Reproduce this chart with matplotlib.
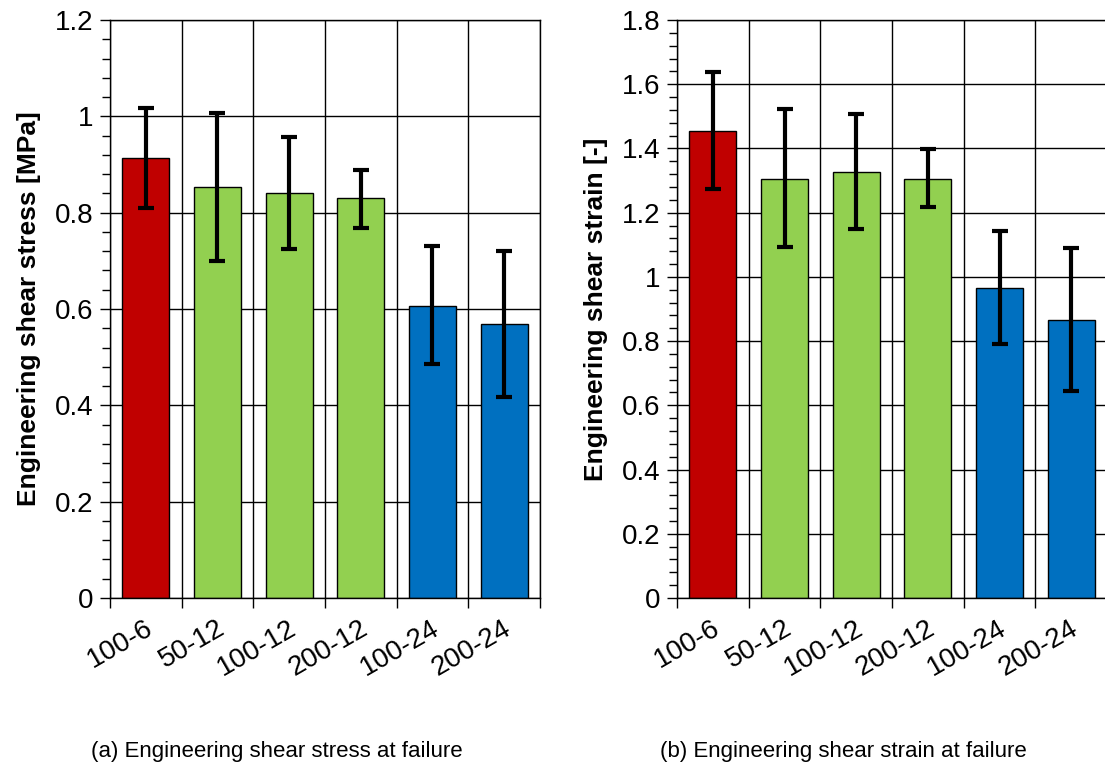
import matplotlib
matplotlib.use("Agg")
import matplotlib.pyplot as plt
import numpy as np
from matplotlib.ticker import MultipleLocator, FixedLocator, FuncFormatter

GROUPS = ["100-6", "50-12", "100-12", "200-12", "100-24", "200-24"]
COLORS = ["#C00000", "#92D050", "#92D050", "#92D050", "#0070C0", "#0070C0"]

STRESS = [0.913, 0.854, 0.841, 0.830, 0.607, 0.569]
STRESS_LO = [0.809, 0.700, 0.724, 0.769, 0.485, 0.418]
STRESS_HI = [1.018, 1.007, 0.957, 0.889, 0.731, 0.721]

STRAIN = [1.454, 1.306, 1.328, 1.306, 0.966, 0.866]
STRAIN_LO = [1.273, 1.094, 1.148, 1.218, 0.791, 0.646]
STRAIN_HI = [1.638, 1.522, 1.508, 1.397, 1.144, 1.089]

plt.rcParams["font.family"] = ["Liberation Sans", "DejaVu Sans"]


def fmt_tick(v, pos):
    s = f"{v:.1f}"
    if s.endswith(".0"):
        s = s[:-2]
    return s


def draw_panel(ax, values, lo, hi, ymax, ylabel):
    x = np.arange(len(GROUPS))
    yerr = [np.array(values) - np.array(lo), np.array(hi) - np.array(values)]
    ax.bar(x, values, width=0.66, color=COLORS, edgecolor="black", linewidth=1.0, zorder=2)
    ax.errorbar(x, values, yerr=yerr, fmt="none", ecolor="black", elinewidth=3,
                capsize=6, capthick=3, zorder=3)
    ax.set_xlim(-0.5, len(GROUPS) - 0.5)
    ax.set_ylim(0, ymax)
    ax.yaxis.set_major_locator(MultipleLocator(0.2))
    ax.yaxis.set_minor_locator(MultipleLocator(0.04))
    ax.yaxis.set_major_formatter(FuncFormatter(fmt_tick))
    # x ticks sit on the category boundaries, labels at the centres
    ax.xaxis.set_major_locator(FixedLocator(np.arange(-0.5, len(GROUPS), 1.0)))
    ax.xaxis.set_major_formatter(FuncFormatter(lambda v, p: ""))
    ax.set_axisbelow(True)
    ax.grid(True, which="major", color="black", linewidth=1.0)
    for sp in ax.spines.values():
        sp.set_color("black")
        sp.set_linewidth(1.0)
    ax.tick_params(axis="y", which="major", direction="out", length=7, width=1, labelsize=20, pad=5)
    ax.tick_params(axis="y", which="minor", direction="out", length=6, width=1)
    ax.tick_params(axis="x", which="major", direction="out", length=7, width=1)
    for i, g in enumerate(GROUPS):
        ax.text(i - 0.02, -0.03, g, transform=ax.get_xaxis_transform(), rotation=30,
                ha="right", va="top", rotation_mode="anchor", fontsize=20)
    ax.set_ylabel(ylabel, fontsize=19, fontweight="bold", labelpad=10)


fig = plt.figure(figsize=(11.05, 7.71), dpi=100)
ax1 = fig.add_axes([110 / 1105, 173 / 771, 430 / 1105, 578 / 771])
ax2 = fig.add_axes([677 / 1105, 173 / 771, 430 / 1105, 578 / 771])

draw_panel(ax1, STRESS, STRESS_LO, STRESS_HI, 1.2, "Engineering shear stress [MPa]")
draw_panel(ax2, STRAIN, STRAIN_LO, STRAIN_HI, 1.8, "Engineering shear strain [-]")

fig.text(277 / 1105, 1 - 752 / 771, "(a) Engineering shear stress at failure",
         ha="center", va="center", fontsize=16)
fig.text(843 / 1105, 1 - 752 / 771, "(b) Engineering shear strain at failure",
         ha="center", va="center", fontsize=16)

fig.savefig("out.png", dpi=100)
